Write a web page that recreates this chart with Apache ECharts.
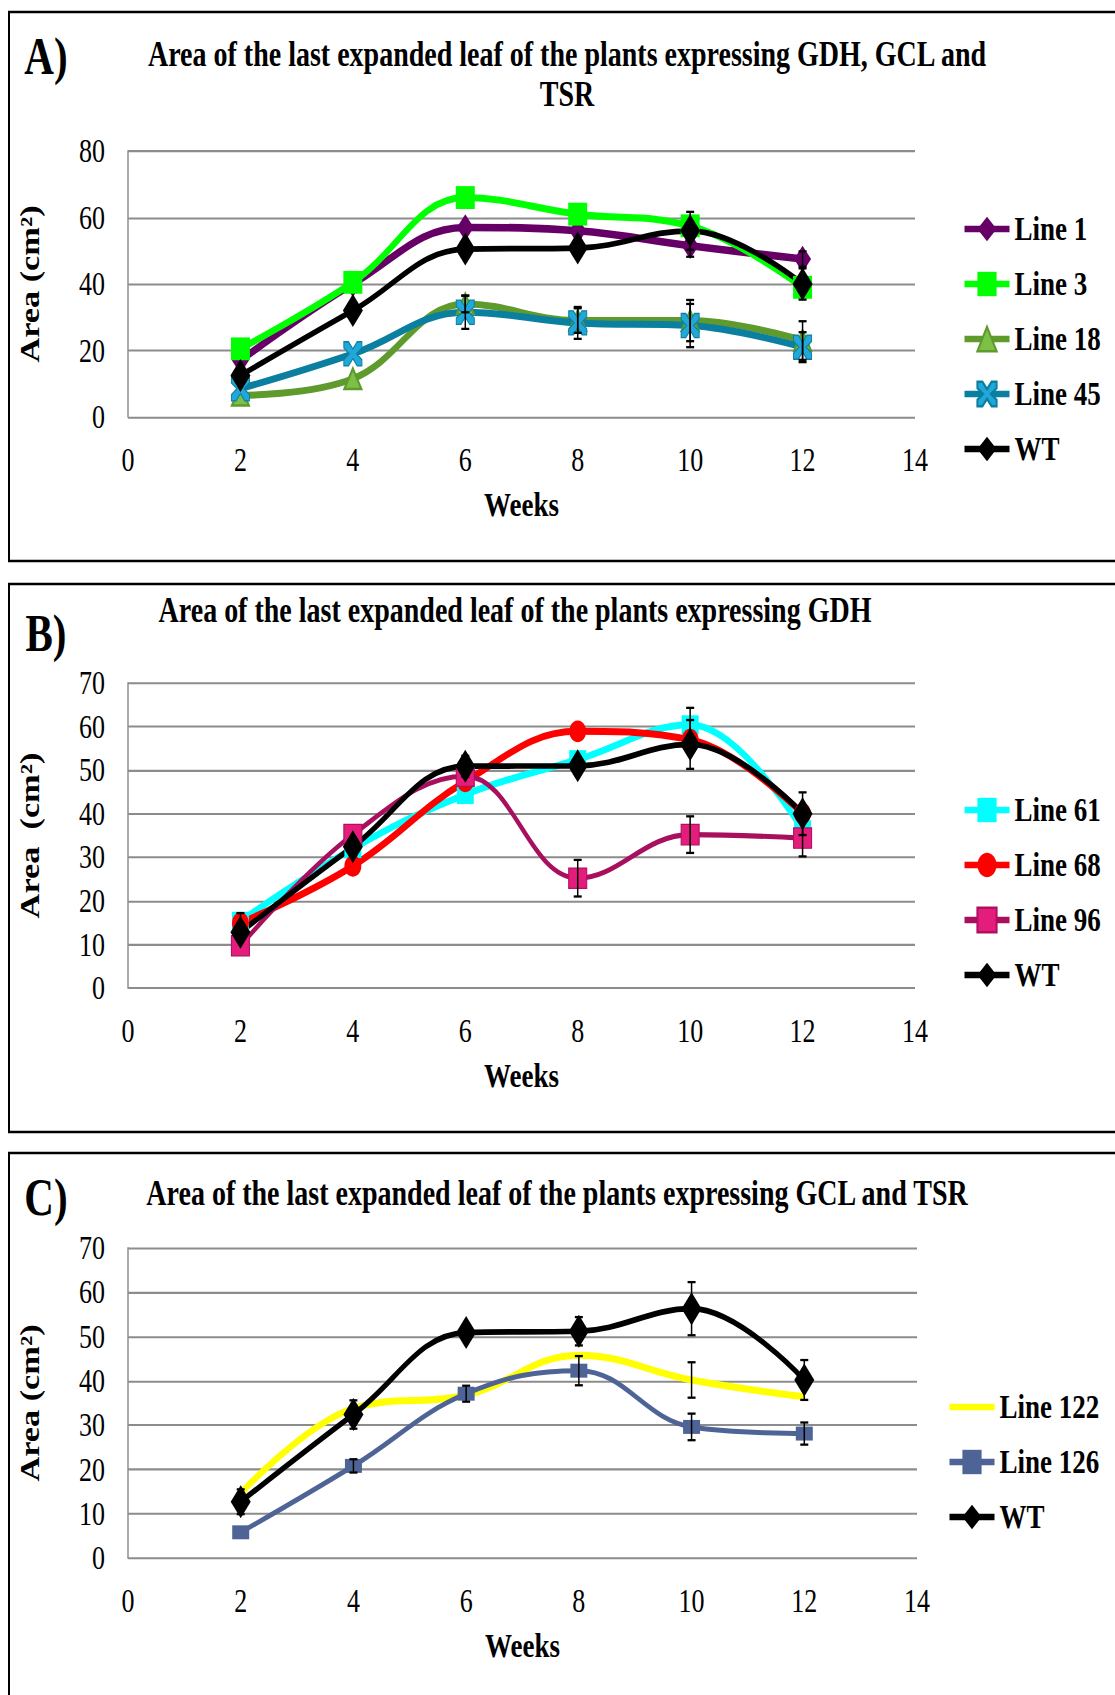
<!DOCTYPE html>
<html>
<head>
<meta charset="utf-8">
<script src="https://cdn.jsdelivr.net/npm/echarts@6/dist/echarts.min.js"></script>
<style>
html,body{margin:0;padding:0;background:#fff;}
#wrap{width:1115px;height:1695px;overflow:hidden;position:relative;background:#fff;}
#chart{width:1115px;transform-origin:0 0;}
</style>
</head>
<body>
<div id="wrap"><div id="chart"></div></div>
<script>
// ---------- data ----------
const weeks = [2, 4, 6, 8, 10, 12];
const xTicks = [0, 2, 4, 6, 8, 10, 12, 14];

// Panel A
const line1   = [17, 40, 57, 56, 51.5, 47.5];
const line1Err= [null, null, null, null, 3.3, 2.3];
const line3   = [20.5, 40.5, 66, 61, 57.5, 39];
const line3Err= [null, null, null, null, null, null];
const line18  = [6.5, 11.5, 34, 29, 29, 23];
const line18Err=[null, null, 2.5, 3.7, 6.2, 5.8];
const line45  = [8.5, 19, 31.5, 28.3, 27.5, 21];
const line45Err=[null, null, 5, 4.8, 6.5, 4.5];
const wtA     = [12.5, 32, 50.5, 50.8, 56, 40];
const wtAErr  = [null, null, null, null, 5.7, 4.7];

// Panel B
const line61  = [15.3, 32, 44.4, 52.4, 60.4, 36.3];
const line61Err=[null, null, null, null, 3.9, null];
const line68  = [14.9, 28, 47.4, 58.9, 57, 40];
const line68Err=[2.3, null, null, null, null, null];
const line96  = [9.7, 35.2, 48.6, 25.2, 35.2, 34.4];
const line96Err=[null, null, null, 4.2, 4.2, 4.2];
const wtB     = [12.8, 32.4, 50.9, 51, 55.9, 40];
const wtBErr  = [null, null, 2.4, null, 5.6, 4.9];

// Panel C
const line122 = [14.6, 33.8, 36.8, 45.8, 40.2, 36.4];
const line122Err=[null, null, null, null, 4, null];
const line126 = [5.8, 20.8, 37.1, 42.3, 29.6, 28.1];
const line126Err=[null, 1.5, 1.8, 3.3, 3, 2.5];
const wtC     = [12.7, 32.4, 50.9, 51.2, 56.3, 40.2];
const wtCErr  = [2.8, 3.2, null, 3.2, 6, 4.5];

const titleA = 'Area of the last expanded leaf of the plants expressing GDH, GCL and\nTSR';
const titleB = 'Area of the last expanded leaf of the plants expressing GDH';
const titleC = 'Area of the last expanded leaf of the plants expressing GCL and TSR';
const yNameA = 'Area (cm²)';
const yNameB = 'Area  (cm²)';
const yNameC = 'Area (cm²)';
const xName = 'Weeks';

// ---------- layout ----------
const S = 1.27; // vertical stretch of the original figure
const Y = v => v / S;
const H = 1695 / S;
const chartDiv = document.getElementById('chart');
chartDiv.style.height = H + 'px';
chartDiv.style.transform = 'scaleY(' + S + ')';

const FONT = 'Liberation Serif';
const pts = vals => weeks.map((w, i) => [w, vals[i]]);
const errPts = pairs => {
  const out = [];
  pairs.forEach(([vals, errs]) => {
    weeks.forEach((w, i) => { if (errs[i] != null) out.push([w, vals[i], errs[i]]); });
  });
  return out;
};

const X_SHAPE = 'path://M0,0 L2.6,0 L5,3 L7.4,0 L10,0 L10,2.6 L7,5 L10,7.4 L10,10 L7.4,10 L5,7 L2.6,10 L0,10 L0,7.4 L3,5 L0,2.6 Z';

function lineSeries(name, vals, idx, color, lw, symbol, size, extra) {
  return Object.assign({
    type: 'line', name, data: pts(vals), xAxisIndex: idx, yAxisIndex: idx,
    smooth: 0.4, symbol, symbolSize: size, showSymbol: symbol !== 'none',
    lineStyle: { color, width: lw },
    itemStyle: { color },
    emphasis: { disabled: true }
  }, extra || {});
}

function errSeries(idx, data) {
  return {
    type: 'custom', name: 'err' + idx, xAxisIndex: idx, yAxisIndex: idx, z: 4,
    data, encode: { x: 0, y: 1 },
    renderItem: (params, api) => {
      const x = api.value(0), v = api.value(1), e = api.value(2);
      const t = api.coord([x, v + e]), b = api.coord([x, v - e]);
      const w = 4;
      return { type: 'group', children: [
        { type: 'line', shape: { x1: t[0], y1: t[1], x2: b[0], y2: b[1] }, style: { stroke: '#000', lineWidth: 1.5 } },
        { type: 'line', shape: { x1: t[0] - w, y1: t[1], x2: t[0] + w, y2: t[1] }, style: { stroke: '#000', lineWidth: 1.8 } },
        { type: 'line', shape: { x1: b[0] - w, y1: b[1], x2: b[0] + w, y2: b[1] }, style: { stroke: '#000', lineWidth: 1.8 } }
      ] };
    }
  };
}

function xAxis(idx) {
  return {
    type: 'value', gridIndex: idx, min: 0, max: 14, interval: 2,
    axisLine: { show: false }, axisTick: { show: false }, splitLine: { show: false },
    axisLabel: { fontFamily: FONT, fontSize: 26, color: '#000', margin: 21 },
    name: xName, nameLocation: 'middle', nameGap: 56,
    nameTextStyle: { fontFamily: FONT, fontSize: 27, fontWeight: 'bold', color: '#000' }
  };
}
function yAxis(idx, max, interval, name) {
  return {
    type: 'value', gridIndex: idx, min: 0, max, interval,
    axisLine: { show: true, lineStyle: { color: '#8f8f8f', width: 1.5 } },
    axisTick: { show: false },
    splitLine: { show: true, lineStyle: { color: '#8c8c8c', width: 1.6 } },
    axisLabel: { fontFamily: FONT, fontSize: 26, color: '#000', margin: 23 },
    name, nameLocation: 'middle', nameRotate: 90, nameGap: 84,
    nameTextStyle: { fontFamily: FONT, fontSize: 27, fontWeight: 'bold', color: '#000' }
  };
}
function legend(items, left, firstY) {
  return {
    data: items, orient: 'vertical', left, top: Y(firstY) - 13.5, padding: 0,
    itemGap: Y(55) - 27, itemWidth: 45, itemHeight: 24, selectedMode: false,
    lineStyle: { width: 5 },
    textStyle: { fontFamily: FONT, fontSize: 27, fontWeight: 'bold', color: '#000', lineHeight: 27 }
  };
}
function txt(text, x, y, size, extra) {
  return Object.assign({
    type: 'text', x, y: Y(y),
    style: { text, font: 'bold ' + size + 'px "' + FONT + '"', fill: '#000', textAlign: 'center', textVerticalAlign: 'middle' }
  }, extra || {});
}

const option = {
  animation: false,
  backgroundColor: '#fff',
  grid: [
    { left: 128, right: 200, top: Y(151), height: Y(266) },
    { left: 128, right: 200, top: Y(683), height: Y(305) },
    { left: 128, right: 198, top: Y(1248), height: Y(310) }
  ],
  xAxis: [xAxis(0), xAxis(1), xAxis(2)],
  yAxis: [yAxis(0, 80, 20, yNameA), yAxis(1, 70, 10, yNameB), yAxis(2, 70, 10, yNameC)],
  legend: [
    legend(['Line 1', 'Line 3', 'Line 18', 'Line 45', 'WT'], 962, 229),
    legend(['Line 61', 'Line 68', 'Line 96', 'WT'], 962, 810),
    legend([{ name: 'Line 122', itemStyle: { opacity: 0 } }, 'Line 126', 'WT'], 947, 1407)
  ],
  graphic: [
    { type: 'rect', shape: { x: 9, y: Y(12), width: 1120, height: Y(549) }, style: { fill: 'none', stroke: '#000', lineWidth: 2 } },
    { type: 'rect', shape: { x: 9, y: Y(584), width: 1120, height: Y(548) }, style: { fill: 'none', stroke: '#000', lineWidth: 2 } },
    { type: 'rect', shape: { x: 9, y: Y(1153), width: 1120, height: Y(600) }, style: { fill: 'none', stroke: '#000', lineWidth: 2 } },
    txt('A)', 46, 56, 41),
    txt('B)', 46, 633, 41),
    txt('C)', 46, 1197, 41),
    { type: 'text', x: 567, y: Y(54) - 16, style: { text: titleA, font: 'bold 28px "' + FONT + '"', fill: '#000', textAlign: 'center', textVerticalAlign: 'top', lineHeight: Y(40) } },
    txt(titleB, 515, 610, 28),
    txt(titleC, 557, 1193, 28)
  ],
  series: [
    lineSeries('Line 1', line1, 0, '#660066', 6, 'diamond', [17, 21]),
    lineSeries('Line 3', line3, 0, '#00ff00', 5.5, 'rect', [19, 18]),
    lineSeries('Line 18', line18, 0, '#5f9a2c', 5.5, 'triangle', [17, 16], { itemStyle: { color: '#7cc047', borderColor: '#5f9a2c', borderWidth: 2 } }),
    lineSeries('Line 45', line45, 0, '#0a7fa0', 5.5, X_SHAPE, [18, 19], { itemStyle: { color: '#22a8d8', borderColor: '#0a7fa0', borderWidth: 1 } }),
    lineSeries('WT', wtA, 0, '#000000', 4.5, 'diamond', [20, 26]),
    errSeries(0, errPts([[line1, line1Err], [line3, line3Err], [line18, line18Err], [line45, line45Err], [wtA, wtAErr]])),

    lineSeries('Line 61', line61, 1, '#00ffff', 5.5, 'rect', [17, 15]),
    lineSeries('Line 68', line68, 1, '#ff0000', 5.5, 'circle', [17, 17]),
    lineSeries('Line 96', line96, 1, '#a8105e', 4, 'rect', [18, 16], { itemStyle: { color: '#e41c7b', borderColor: '#b0105f', borderWidth: 1 } }),
    lineSeries('WT', wtB, 1, '#000000', 4.5, 'diamond', [20, 26]),
    errSeries(1, errPts([[line61, line61Err], [line68, line68Err], [line96, line96Err], [wtB, wtBErr]])),

    lineSeries('Line 122', line122, 2, '#ffff00', 5.5, 'none', 0),
    lineSeries('Line 126', line126, 2, '#4f6496', 4, 'rect', [17, 11]),
    lineSeries('WT', wtC, 2, '#000000', 4.5, 'diamond', [20, 26]),
    errSeries(2, errPts([[line122, line122Err], [line126, line126Err], [wtC, wtCErr]]))
  ]
};

const chart = echarts.init(chartDiv, null, { renderer: 'svg', width: 1115, height: H });
chart.setOption(option);
</script>
</body>
</html>
